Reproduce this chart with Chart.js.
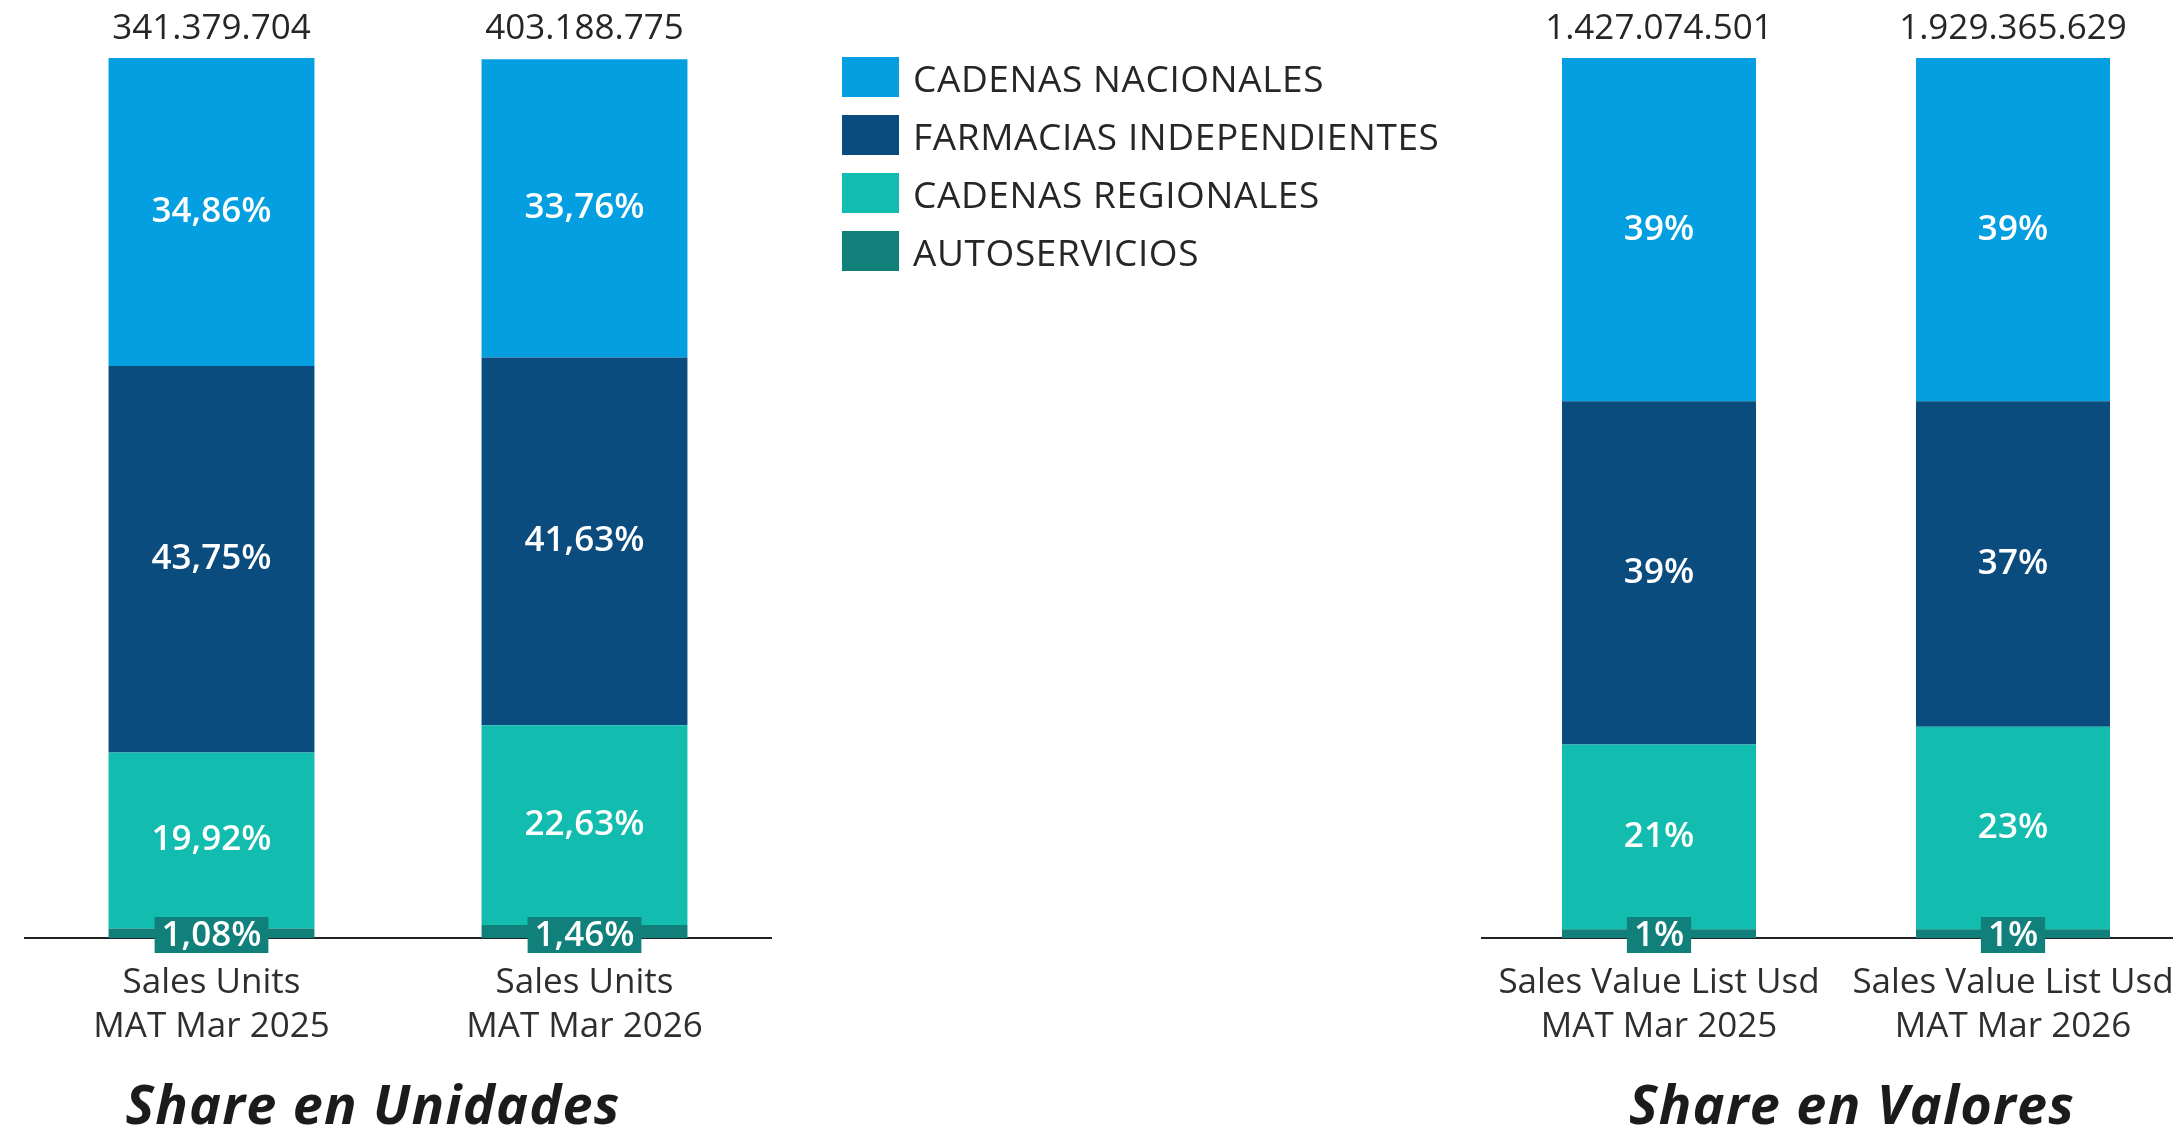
<!DOCTYPE html>
<html>
<head>
<meta charset="utf-8">
<script src="https://cdn.jsdelivr.net/npm/chart.js@4.4.1/dist/chart.umd.min.js"></script>
<style>
  html, body { margin: 0; padding: 0; background: #fff; overflow: hidden; width: 2173px; height: 1132px; font-family: 'Open Sans', sans-serif; color: #2b2b2b; }
  canvas { position: absolute; top: 0; }
  #unitsChart { left: 0; }
  #valuesChart { left: 1400px; }
  .legend { position: absolute; left: 842px; top: 57px; }
  .legend-item { display: flex; align-items: center; height: 40px; margin-bottom: 18px; font-size: 37px; letter-spacing: 0.6px; white-space: nowrap; color: #262626; }
  .legend-dot { width: 57px; height: 40px; margin-right: 14px; flex: none; }
</style>
</head>
<body>
<canvas id="unitsChart" width="800" height="1132"></canvas>
<canvas id="valuesChart" width="820" height="1132"></canvas>
<div class="legend" id="legend"></div>

<script>
// ─── DATA ──────────────────────────────────
const seriesNames  = ['CADENAS NACIONALES', 'FARMACIAS INDEPENDIENTES', 'CADENAS REGIONALES', 'AUTOSERVICIOS'];
const seriesColors = ['#049fe0', '#0b4c7f', '#12bcae', '#11807a'];

const unitCategories     = [['Sales Units', 'MAT Mar 2025'], ['Sales Units', 'MAT Mar 2026']];
const unitTotals         = ['341.379.704', '403.188.775'];
const unitNacionales     = [34.86, 33.76];
const unitIndependientes = [43.75, 41.63];
const unitRegionales     = [19.92, 22.63];
const unitAutoservicios  = [1.08, 1.46];

const valueCategories     = [['Sales Value List Usd', 'MAT Mar 2025'], ['Sales Value List Usd', 'MAT Mar 2026']];
const valueTotals         = ['1.427.074.501', '1.929.365.629'];
const valueNacionales     = [39, 39];
const valueIndependientes = [39, 37];
const valueRegionales     = [21, 23];
const valueAutoservicios  = [1, 1];

// ─── PLUGINS ──────────────────────────
function fmtPct(v, dec) {
  return v.toFixed(dec).replace('.', ',') + '%';
}

const barLabels = {
  id: 'barLabels',
  afterDatasetsDraw(chart, args, opts) {
    const ctx = chart.ctx;
    ctx.save();
    ctx.textAlign = 'center';
    ctx.textBaseline = 'middle';
    chart.data.datasets.forEach((ds, di) => {
      const meta = chart.getDatasetMeta(di);
      meta.data.forEach((bar, i) => {
        const txt = fmtPct(ds.data[i], opts.decimals);
        ctx.font = '600 35px "Open Sans"';
        if (ds.boxLabel) {
          const w = ctx.measureText(txt).width + 14;
          const cy = bar.base - 3;
          ctx.fillStyle = ds.backgroundColor;
          ctx.fillRect(bar.x - w / 2, cy - 18, w, 36);
          ctx.fillStyle = '#fff';
          ctx.fillText(txt, bar.x, cy + 1);
        } else {
          ctx.fillStyle = '#fff';
          ctx.fillText(txt, bar.x, (bar.y + bar.base) / 2);
        }
      });
    });
    // totals above each bar
    const topMeta = chart.getDatasetMeta(chart.data.datasets.length - 1);
    ctx.font = '35px "Open Sans"';
    ctx.fillStyle = '#262626';
    topMeta.data.forEach((bar, i) => {
      ctx.fillText(opts.totals[i], bar.x, chart.chartArea.top - 29);
    });
    ctx.restore();
  }
};

// panel caption under the axis labels
const panelTitle = {
  id: 'panelTitle',
  afterDraw(chart, args, opts) {
    const ctx = chart.ctx;
    ctx.save();
    ctx.font = 'italic 700 54px "Open Sans"';
    ctx.letterSpacing = '1.2px';
    ctx.fillStyle = '#1b1b1b';
    ctx.textAlign = 'center';
    ctx.textBaseline = 'alphabetic';
    ctx.fillText(opts.text, opts.x, 1124);
    ctx.restore();
  }
};

// ─── CHARTS ──────────────────────────────────
function buildStacked(canvasId, categories, series, totals, decimals, yMax, barPct, pad, title) {
  // stack bottom -> top: autoservicios, regionales, independientes, nacionales
  const order = [3, 2, 1, 0];
  const datasets = order.map(k => ({
    label: seriesNames[k],
    data: series[k],
    backgroundColor: seriesColors[k],
    borderWidth: 0,
    boxLabel: k === 3,
    categoryPercentage: 1,
    barPercentage: barPct,
  }));
  return new Chart(document.getElementById(canvasId), {
    type: 'bar',
    data: { labels: categories, datasets },
    options: {
      responsive: false,
      animation: false,
      events: [],
      layout: { padding: pad },
      plugins: {
        legend: { display: false },
        tooltip: { enabled: false },
        barLabels: { totals, decimals },
        panelTitle: title,
      },
      scales: {
        x: {
          stacked: true,
          grid: { display: false, drawTicks: false },
          border: { display: true, color: '#222', width: 2 },
          ticks: { color: '#2e2e2e', font: { family: 'Open Sans', size: 35, lineHeight: 1.23 }, padding: 24, maxRotation: 0, autoSkip: false },
          afterFit: s => { s.height = 120; },
        },
        y: { stacked: true, display: false, min: 0, max: yMax },
      }
    },
    plugins: [barLabels, panelTitle]
  });
}

buildStacked('unitsChart', unitCategories,
  [unitNacionales, unitIndependientes, unitRegionales, unitAutoservicios],
  unitTotals, 2, 99.61, 0.552, { top: 58, left: 25, right: 29, bottom: 74 },
  { text: 'Share en Unidades', x: 373 });

buildStacked('valuesChart', valueCategories,
  [valueNacionales, valueIndependientes, valueRegionales, valueAutoservicios],
  valueTotals, 0, 100, 0.548, { top: 58, left: 82, right: 30, bottom: 74 },
  { text: 'Share en Valores', x: 452 });

// ─── LEGEND ──────────────────────────────────
document.getElementById('legend').innerHTML = seriesNames.map((lbl, i) => `
  <div class="legend-item">
    <span class="legend-dot" style="background:${seriesColors[i]}"></span>
    <span>${lbl}</span>
  </div>
`).join('');
</script>
</body>
</html>
